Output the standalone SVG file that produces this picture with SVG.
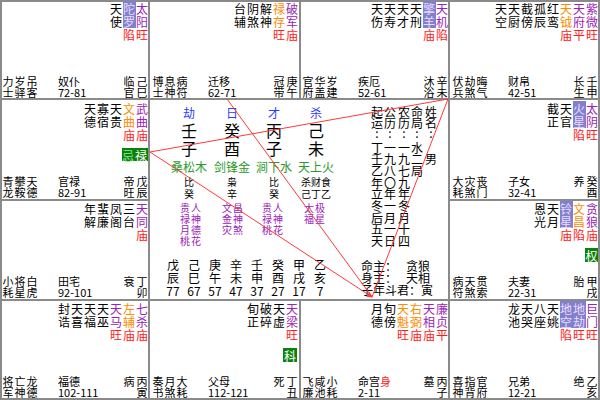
<svg xmlns="http://www.w3.org/2000/svg" width="600" height="400" viewBox="0 0 600 400">
<style>
text{font-family:"Noto Sans CJK SC","Liberation Sans",sans-serif;text-anchor:middle;dominant-baseline:central;font-size:12px;fill:#000}
.p{fill:#9a22b8}.o{fill:#ff8a00}.r{fill:#ff1a1a}.h{fill:#ecdcff}.b{font-size:11px}.l{text-anchor:start}
.bl{fill:#2a3cff;font-size:12px}.g{fill:#2a9a2a;font-size:12px}.v{fill:#9a22b8;font-size:10px}.big{font-size:16px}.sm{font-size:10px}
.hb{fill:#8080cc}.gb{fill:#0a820a}.gt{fill:#ffffff}.gl{fill:#90e890}
.grid{fill:none;stroke:#8a8a8a;stroke-width:2}
.ln{stroke:#ff3a3a;stroke-width:1;fill:none}
</style>
<defs><marker id="ar" markerWidth="6" markerHeight="6" refX="5" refY="3" orient="auto"><path d="M0,0 L6,3 L0,6 z" fill="#ff3a3a"/></marker></defs>
<rect width="600" height="400" fill="#fff"/>
<g id="grid" class="grid">
<rect x="1" y="1" width="598" height="398"/>
<line x1="0" y1="99" x2="600" y2="99"/><line x1="0" y1="300" x2="600" y2="300"/>
<line x1="0" y1="200" x2="150" y2="200"/><line x1="450" y1="200" x2="600" y2="200"/>
<line x1="149" y1="0" x2="149" y2="400"/><line x1="449" y1="0" x2="449" y2="400"/>
<line x1="300" y1="0" x2="300" y2="99"/><line x1="300" y1="300" x2="300" y2="400"/>
</g>

<g id="si" transform="translate(0,0)">
<text class="p" x="142" y="8">太</text><text class="p" x="142" y="21">阳</text><text class="r" x="142" y="34">旺</text>
<rect class="hb" x="123" y="1" width="13" height="27"/><text class="h" x="129" y="8">陀</text><text class="h" x="129" y="21">罗</text><text class="r" x="129" y="34">陷</text>
<text x="116" y="8">天</text><text x="116" y="21">使</text>
<text class="b" x="8" y="81">力</text><text class="b" x="8" y="92">士</text><text class="b" x="20" y="81">岁</text><text class="b" x="20" y="92">驿</text><text class="b" x="32" y="81">吊</text><text class="b" x="32" y="92">客</text>
<text class="b l" x="58" y="81">奴仆</text><text class="b l" x="58" y="92">72-81</text>
<text class="b" x="129" y="81">临</text><text class="b" x="129" y="92">官</text><text class="b" x="142" y="81">己</text><text class="b" x="142" y="92">巳</text>
</g>

<g id="wu" transform="translate(150,0)">
<text class="p" x="142" y="8">破</text><text class="p" x="142" y="21">军</text><text class="r" x="142" y="34">庙</text>
<text class="o" x="129" y="8">禄</text><text class="o" x="129" y="21">存</text><text class="r" x="129" y="34">旺</text>
<text x="116" y="8">解</text><text x="116" y="21">神</text><text x="103" y="8">阴</text><text x="103" y="21">煞</text><text x="90" y="8">台</text><text x="90" y="21">辅</text>
<text class="b" x="8" y="81">博</text><text class="b" x="8" y="92">士</text><text class="b" x="20" y="81">息</text><text class="b" x="20" y="92">神</text><text class="b" x="32" y="81">病</text><text class="b" x="32" y="92">符</text>
<text class="b l" x="58" y="81">迁移</text><text class="b l" x="58" y="92">62-71</text>
<text class="b" x="129" y="81">冠</text><text class="b" x="129" y="92">带</text><text class="b" x="142" y="81">庚</text><text class="b" x="142" y="92">午</text>
</g>

<g id="wei" transform="translate(300,0)">
<text class="p" x="142" y="8">天</text><text class="p" x="142" y="21">机</text><text class="r" x="142" y="34">陷</text>
<rect class="hb" x="123" y="1" width="13" height="27"/><text class="h" x="129" y="8">擎</text><text class="h" x="129" y="21">羊</text><text class="r" x="129" y="34">庙</text>
<text x="116" y="8">天</text><text x="116" y="21">刑</text><text x="103" y="8">天</text><text x="103" y="21">才</text><text x="90" y="8">天</text><text x="90" y="21">寿</text><text x="77" y="8">天</text><text x="77" y="21">伤</text>
<text class="b" x="8" y="81">官</text><text class="b" x="8" y="92">府</text><text class="b" x="20" y="81">华</text><text class="b" x="20" y="92">盖</text><text class="b" x="32" y="81">岁</text><text class="b" x="32" y="92">建</text>
<text class="b l" x="58" y="81">疾厄</text><text class="b l" x="58" y="92">52-61</text>
<text class="b" x="129" y="81">沐</text><text class="b" x="129" y="92">浴</text><text class="b" x="142" y="81">辛</text><text class="b" x="142" y="92">未</text>
</g>

<g id="shen" transform="translate(450,0)">
<text class="p" x="142" y="8">紫</text><text class="p" x="142" y="21">微</text><text class="r" x="142" y="34">旺</text>
<text class="p" x="129" y="8">天</text><text class="p" x="129" y="21">府</text><text class="r" x="129" y="34">平</text>
<text class="o" x="116" y="8">天</text><text class="o" x="116" y="21">钺</text><text class="r" x="116" y="34">庙</text>
<text x="103" y="8">红</text><text x="103" y="21">鸾</text><text x="90" y="8">孤</text><text x="90" y="21">辰</text><text x="77" y="8">截</text><text x="77" y="21">傍</text><text x="64" y="8">天</text><text x="64" y="21">厨</text><text x="51" y="8">天</text><text x="51" y="21">空</text>
<text class="b" x="8" y="81">伏</text><text class="b" x="8" y="92">兵</text><text class="b" x="20" y="81">劫</text><text class="b" x="20" y="92">煞</text><text class="b" x="32" y="81">晦</text><text class="b" x="32" y="92">气</text>
<text class="b l" x="58" y="81">财帛</text><text class="b l" x="58" y="92">42-51</text>
<text class="b" x="129" y="81">长</text><text class="b" x="129" y="92">生</text><text class="b" x="142" y="81">壬</text><text class="b" x="142" y="92">申</text>
</g>

<g id="chen" transform="translate(0,100)">
<text class="p" x="142" y="8">武</text><text class="p" x="142" y="21">曲</text><text class="r" x="142" y="34">庙</text>
<text class="o" x="129" y="8">文</text><text class="o" x="129" y="21">曲</text><text class="r" x="129" y="34">庙</text>
<text x="116" y="8">天</text><text x="116" y="21">贵</text><text x="103" y="8">寡</text><text x="103" y="21">宿</text><text x="90" y="8">天</text><text x="90" y="21">德</text>
<rect class="gb" x="122" y="48" width="26" height="13"/><text class="gl" x="128" y="55">忌</text><text class="gt" x="141" y="55">禄</text>
<text class="b" x="8" y="81">青</text><text class="b" x="8" y="92">龙</text><text class="b" x="20" y="81">攀</text><text class="b" x="20" y="92">鞍</text><text class="b" x="32" y="81">天</text><text class="b" x="32" y="92">德</text>
<text class="b l" x="58" y="81">官禄</text><text class="b l" x="58" y="92">82-91</text>
<text class="b" x="129" y="81">帝</text><text class="b" x="129" y="92">旺</text><text class="b" x="142" y="81">戊</text><text class="b" x="142" y="92">辰</text>
</g>

<g id="you" transform="translate(450,100)">
<text class="p" x="142" y="8">太</text><text class="p" x="142" y="21">阴</text><text class="r" x="142" y="34">旺</text>
<rect class="hb" x="123" y="1" width="13" height="27"/><text class="h" x="129" y="8">火</text><text class="h" x="129" y="21">星</text><text class="r" x="129" y="34">陷</text>
<text x="116" y="8">天</text><text x="116" y="21">官</text><text x="103" y="8">截</text><text x="103" y="21">正</text>
<text class="b" x="8" y="81">大</text><text class="b" x="8" y="92">耗</text><text class="b" x="20" y="81">灾</text><text class="b" x="20" y="92">煞</text><text class="b" x="32" y="81">丧</text><text class="b" x="32" y="92">门</text>
<text class="b l" x="58" y="81">子女</text><text class="b l" x="58" y="92">32-41</text>
<text class="b" x="129" y="81">养</text><text class="b" x="142" y="81">癸</text><text class="b" x="142" y="92">酉</text>
</g>

<g id="mao" transform="translate(0,200)">
<text class="p" x="142" y="8">天</text><text class="p" x="142" y="21">同</text><text class="r" x="142" y="34">庙</text>
<text x="129" y="8">三</text><text x="129" y="21">台</text><text x="116" y="8">凤</text><text x="116" y="21">阁</text><text x="103" y="8">蜚</text><text x="103" y="21">廉</text><text x="90" y="8">年</text><text x="90" y="21">解</text>
<text class="b" x="8" y="81">小</text><text class="b" x="8" y="92">耗</text><text class="b" x="20" y="81">将</text><text class="b" x="20" y="92">星</text><text class="b" x="32" y="81">白</text><text class="b" x="32" y="92">虎</text>
<text class="b l" x="58" y="81">田宅</text><text class="b l" x="58" y="92">92-101</text>
<text class="b" x="129" y="81">衰</text><text class="b" x="142" y="81">丁</text><text class="b" x="142" y="92">卯</text>
</g>

<g id="xu" transform="translate(450,200)">
<text class="p" x="142" y="8">贪</text><text class="p" x="142" y="21">狼</text><text class="r" x="142" y="34">庙</text>
<text class="o" x="129" y="8">文</text><text class="o" x="129" y="21">昌</text><text class="r" x="129" y="34">陷</text>
<rect class="hb" x="110" y="1" width="13" height="27"/><text class="h" x="116" y="8">铃</text><text class="h" x="116" y="21">星</text><text class="r" x="116" y="34">庙</text>
<text x="103" y="8">天</text><text x="103" y="21">月</text><text x="90" y="8">恩</text><text x="90" y="21">光</text>
<rect class="gb" x="135" y="48" width="13" height="14"/><text class="gt" x="141.5" y="55">权</text>
<text class="b" x="8" y="81">病</text><text class="b" x="8" y="92">符</text><text class="b" x="20" y="81">天</text><text class="b" x="20" y="92">煞</text><text class="b" x="32" y="81">贯</text><text class="b" x="32" y="92">索</text>
<text class="b l" x="58" y="81">夫妻</text><text class="b l" x="58" y="92">22-31</text>
<text class="b" x="129" y="81">胎</text><text class="b" x="142" y="81">甲</text><text class="b" x="142" y="92">戌</text>
</g>

<g id="yin" transform="translate(0,300)">
<text class="p" x="142" y="8">七</text><text class="p" x="142" y="21">杀</text><text class="r" x="142" y="34">庙</text>
<text class="o" x="129" y="8">左</text><text class="o" x="129" y="21">辅</text><text class="r" x="129" y="34">庙</text>
<text class="p" x="116" y="8">天</text><text class="p" x="116" y="21">马</text><text class="r" x="116" y="34">旺</text>
<text x="103" y="8">天</text><text x="103" y="21">巫</text><text x="90" y="8">天</text><text x="90" y="21">福</text><text x="77" y="8">天</text><text x="77" y="21">喜</text><text x="64" y="8">封</text><text x="64" y="21">诰</text>
<text class="b" x="8" y="81">将</text><text class="b" x="8" y="92">军</text><text class="b" x="20" y="81">亡</text><text class="b" x="20" y="92">神</text><text class="b" x="32" y="81">龙</text><text class="b" x="32" y="92">德</text>
<text class="b l" x="58" y="81">福德</text><text class="b l" x="58" y="92">102-111</text>
<text class="b" x="129" y="81">病</text><text class="b" x="142" y="81">丙</text><text class="b" x="142" y="92">寅</text>
</g>

<g id="chou" transform="translate(150,300)">
<text class="p" x="142" y="8">天</text><text class="p" x="142" y="21">梁</text><text class="r" x="142" y="34">旺</text>
<text x="129" y="8">天</text><text x="129" y="21">虚</text><text x="116" y="8">破</text><text x="116" y="21">碎</text><text x="103" y="8">旬</text><text x="103" y="21">正</text>
<rect class="gb" x="133" y="48" width="14" height="14"/><text class="gt" x="140" y="55">科</text>
<text class="b" x="8" y="81">奏</text><text class="b" x="8" y="92">书</text><text class="b" x="20" y="81">月</text><text class="b" x="20" y="92">煞</text><text class="b" x="32" y="81">大</text><text class="b" x="32" y="92">耗</text>
<text class="b l" x="58" y="81">父母</text><text class="b l" x="58" y="92">112-121</text>
<text class="b" x="129" y="81">死</text><text class="b" x="142" y="81">丁</text><text class="b" x="142" y="92">丑</text>
</g>

<g id="zi" transform="translate(300,300)">
<text class="p" x="142" y="8">廉</text><text class="p" x="142" y="21">贞</text><text class="r" x="142" y="34">平</text>
<text class="p" x="129" y="8">天</text><text class="p" x="129" y="21">相</text><text class="r" x="129" y="34">庙</text>
<text class="o" x="116" y="8">右</text><text class="o" x="116" y="21">弼</text><text class="r" x="116" y="34">庙</text>
<text class="o" x="103" y="8">天</text><text class="o" x="103" y="21">魁</text><text class="r" x="103" y="34">旺</text>
<text x="90" y="8">旬</text><text x="90" y="21">傍</text><text x="77" y="8">月</text><text x="77" y="21">德</text>
<text class="b" x="8" y="81">飞</text><text class="b" x="8" y="92">廉</text><text class="b" x="20" y="81">咸</text><text class="b" x="20" y="92">池</text><text class="b" x="32" y="81">小</text><text class="b" x="32" y="92">耗</text>
<text class="b l" x="58" y="81">命宫<tspan class="r">身</tspan></text><text class="b l" x="58" y="92">2-11</text>
<text class="b" x="129" y="81">墓</text><text class="b" x="142" y="81">丙</text><text class="b" x="142" y="92">子</text>
</g>

<g id="hai" transform="translate(450,300)">
<text class="p" x="142" y="8">巨</text><text class="p" x="142" y="21">门</text><text class="r" x="142" y="34">旺</text>
<rect class="hb" x="110" y="1" width="26" height="27"/>
<text class="h" x="129" y="8">地</text><text class="h" x="129" y="21">劫</text><text class="r" x="129" y="34">旺</text>
<text class="h" x="116" y="8">地</text><text class="h" x="116" y="21">空</text><text class="r" x="116" y="34">陷</text>
<text x="103" y="8">天</text><text x="103" y="21">姚</text><text x="90" y="8">八</text><text x="90" y="21">座</text><text x="77" y="8">天</text><text x="77" y="21">哭</text><text x="64" y="8">龙</text><text x="64" y="21">池</text>
<text class="b" x="8" y="81">喜</text><text class="b" x="8" y="92">神</text><text class="b" x="20" y="81">指</text><text class="b" x="20" y="92">背</text><text class="b" x="32" y="81">官</text><text class="b" x="32" y="92">府</text>
<text class="b l" x="58" y="81">兄弟</text><text class="b l" x="58" y="92">12-21</text>
<text class="b" x="129" y="81">绝</text><text class="b" x="142" y="81">乙</text><text class="b" x="142" y="92">亥</text>
</g>

<g id="center">
<text class="bl" x="189" y="112">劫</text><text class="bl" x="232" y="112">日</text><text class="bl" x="274" y="112">才</text><text class="bl" x="316" y="112">杀</text>
<text class="big" x="189" y="130">壬</text><text class="big" x="232" y="130">癸</text><text class="big" x="274" y="130">丙</text><text class="big" x="316" y="130">己</text>
<text class="big" x="189" y="148">子</text><text class="big" x="232" y="148">酉</text><text class="big" x="274" y="148">子</text><text class="big" x="316" y="148">未</text>
<text class="g" x="189" y="166">桑松木</text><text class="g" x="232" y="166">剑锋金</text><text class="g" x="274" y="166">涧下水</text><text class="g" x="316" y="166">天上火</text>
<text class="sm" x="189" y="181">比</text><text class="sm" x="189" y="193">癸</text><text class="sm" x="232" y="181">枭</text><text class="sm" x="232" y="193">辛</text>
<text class="sm" x="274" y="181">比</text><text class="sm" x="274" y="193">癸</text><text class="sm" x="316" y="181">杀财食</text><text class="sm" x="316" y="193">己丁乙</text>
<text class="v" x="185" y="207">贵</text><text class="v" x="185" y="218">禄</text><text class="v" x="185" y="229">月</text><text class="v" x="185" y="240">桃</text>
<text class="v" x="196" y="207">人</text><text class="v" x="196" y="218">神</text><text class="v" x="196" y="229">德</text><text class="v" x="196" y="240">花</text>
<text class="v" x="227" y="207">文</text><text class="v" x="227" y="218">金</text><text class="v" x="227" y="229">灾</text>
<text class="v" x="238" y="207">昌</text><text class="v" x="238" y="218">神</text><text class="v" x="238" y="229">煞</text>
<text class="v" x="267" y="207">贵</text><text class="v" x="267" y="218">禄</text><text class="v" x="267" y="229">桃</text>
<text class="v" x="278" y="207">人</text><text class="v" x="278" y="218">神</text><text class="v" x="278" y="229">花</text>
<text class="v" x="309" y="207">太</text><text class="v" x="309" y="218">福</text><text class="v" x="320" y="207">极</text><text class="v" x="320" y="218">星</text>
<g class="sm">
<text x="173" y="264">戊</text><text x="173" y="277">辰</text><text x="173" y="290">77</text>
<text x="194" y="264">己</text><text x="194" y="277">巳</text><text x="194" y="290">67</text>
<text x="215" y="264">庚</text><text x="215" y="277">午</text><text x="215" y="290">57</text>
<text x="236" y="264">辛</text><text x="236" y="277">未</text><text x="236" y="290">47</text>
<text x="257" y="264">壬</text><text x="257" y="277">申</text><text x="257" y="290">37</text>
<text x="278" y="264">癸</text><text x="278" y="277">酉</text><text x="278" y="290">27</text>
<text x="299" y="264">甲</text><text x="299" y="277">戌</text><text x="299" y="290">17</text>
<text x="320" y="264">乙</text><text x="320" y="277">亥</text><text x="320" y="290">7</text>
</g>
<g class="sm">
<text x="377" y="111">起</text><text x="377" y="122">运</text><text x="377" y="132">:</text>
<text x="390" y="111">公</text><text x="390" y="122">历</text><text x="390" y="132">:</text>
<text x="404" y="111">农</text><text x="404" y="122">历</text><text x="404" y="132">:</text>
<text x="417" y="111">命</text><text x="417" y="122">局</text><text x="417" y="132">:</text>
<text x="431" y="111">姓</text><text x="431" y="122">名</text><text x="431" y="132">:</text>
<text x="377" y="147">丁</text><text x="390" y="147">一</text><text x="404" y="147">一</text><text x="417" y="147">水</text>
<text x="377" y="158">壬</text><text x="390" y="158">九</text><text x="404" y="158">九</text><text x="417" y="158">二</text><text x="431" y="158">男</text>
<text x="377" y="170">乙</text><text x="390" y="170">八</text><text x="404" y="170">七</text><text x="417" y="170">局</text>
<text x="377" y="182">年</text><text x="390" y="182">〇</text><text x="404" y="182">九</text>
<text x="377" y="193">立</text><text x="390" y="193">年</text><text x="404" y="193">年</text>
<text x="377" y="205">冬</text><text x="390" y="205">一</text><text x="404" y="205">冬</text>
<text x="377" y="217">后</text><text x="390" y="217">月</text><text x="404" y="217">月</text>
<text x="377" y="228">五</text><text x="390" y="228">一</text><text x="404" y="228">十</text>
<text x="377" y="240">天</text><text x="390" y="240">日</text><text x="404" y="240">四</text>
<text class="l" x="361" y="265">命主：</text><text class="l" x="406" y="265">贪狼</text>
<text class="l" x="361" y="277">身主：</text><text class="l" x="406" y="277">天相</text>
<text class="l" x="361" y="289">子年斗君：寅</text>
</g>
</g>

<g id="connectors" class="ln">
<line x1="150" y1="152" x2="448" y2="99"/>
<line x1="150" y1="152" x2="372" y2="297" marker-end="url(#ar)"/>
<line x1="227" y1="99" x2="372" y2="297"/>
<line x1="448" y1="99" x2="372" y2="297"/>
</g>
</svg>
